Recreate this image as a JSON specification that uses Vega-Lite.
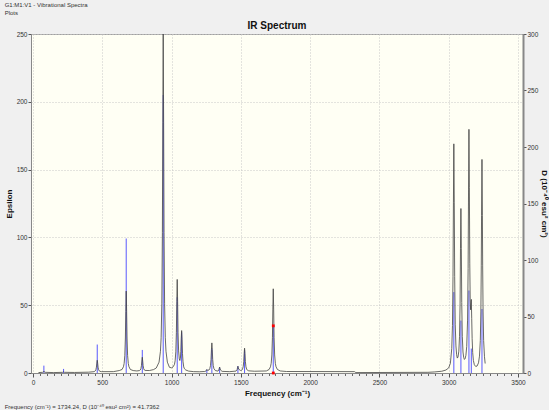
{
  "$schema": "https://vega.github.io/schema/vega-lite/v6.json",
  "background": "#f0f0f0",
  "padding": {"left": 4, "top": 1, "right": 0, "bottom": 0},
  "title": {"text": "G1:M1:V1 - Vibrational Spectra", "subtitle": "Plots", "anchor": "start", "fontSize": 6, "subtitleFontSize": 6, "fontWeight": "normal", "color": "#333333", "subtitleColor": "#333333", "font": "Liberation Sans", "subtitleFont": "Liberation Sans", "offset": 5, "subtitlePadding": 2},
  "datasets": {
    "curve": [
      {"f":40,"e":0.3},{"f":70,"e":0.5},{"f":76,"e":0.8},{"f":79,"e":1.3},{"f":82,"e":0.8},{"f":88,"e":0.5},{"f":150,"e":0.3},
      {"f":215,"e":0.5},{"f":221,"e":0.9},{"f":227,"e":0.5},{"f":300,"e":0.4},{"f":400,"e":0.6},
      {"f":434,"e":0.9},{"f":444,"e":1.1},{"f":449,"e":1.5},{"f":454,"e":2.4},{"f":458,"e":4.3},{"f":461,"e":7.3},{"f":464,"e":9.4},{"f":467,"e":7.3},{"f":470,"e":4.3},{"f":474,"e":2.4},{"f":479,"e":1.5},{"f":484,"e":1.2},{"f":494,"e":1.0},
      {"f":580,"e":1.0},{"f":623,"e":1.8},{"f":643,"e":2.6},{"f":653,"e":4.6},{"f":658,"e":7},{"f":663,"e":13},{"f":667,"e":25.8},{"f":670,"e":45.4},{"f":673,"e":60.4},{"f":676,"e":45.4},{"f":679,"e":25.8},{"f":683,"e":13},{"f":688,"e":7},{"f":693,"e":4.6},{"f":703,"e":2.6},{"f":723,"e":1.8},
      {"f":750,"e":1.5},{"f":769,"e":1.8},{"f":774,"e":2.2},{"f":779,"e":3.2},{"f":783,"e":5.5},{"f":786,"e":8.8},{"f":789,"e":11.6},{"f":792,"e":8.8},{"f":795,"e":5.5},{"f":799,"e":3.2},{"f":804,"e":2.2},{"f":809,"e":1.9},
      {"f":840,"e":1.8},{"f":870,"e":2.5},{"f":890,"e":3.7},{"f":910,"e":8},{"f":920,"e":16},{"f":925,"e":26},{"f":930,"e":51},{"f":934,"e":103.5},{"f":937,"e":185},{"f":940,"e":250},{"f":943,"e":185},{"f":946,"e":103.5},{"f":950,"e":51},{"f":955,"e":26},{"f":960,"e":16},{"f":970,"e":8},{"f":985,"e":4.2},
      {"f":1000,"e":3.8},{"f":1011,"e":4.5},{"f":1021,"e":6.3},{"f":1026,"e":9},{"f":1031,"e":15.6},{"f":1035,"e":30},{"f":1038,"e":52.5},{"f":1041,"e":69},{"f":1044,"e":52.5},{"f":1047,"e":30},{"f":1051,"e":16.3},{"f":1056,"e":10.4},{"f":1060,"e":9.2},{"f":1064,"e":10.9},{"f":1067,"e":16},{"f":1070,"e":25.6},{"f":1073,"e":31.3},{"f":1076,"e":25},{"f":1079,"e":14.5},{"f":1083,"e":8.2},{"f":1088,"e":4.5},{"f":1093,"e":3.2},{"f":1103,"e":2.2},{"f":1123,"e":1.4},{"f":1160,"e":1.0},{"f":1200,"e":0.9},
      {"f":1240,"e":1.1},{"f":1250,"e":1.6},{"f":1255,"e":2.6},{"f":1260,"e":1.9},{"f":1270,"e":2.2},{"f":1276,"e":3.2},{"f":1281,"e":5.4},{"f":1285,"e":10},{"f":1288,"e":17.2},{"f":1291,"e":22.2},{"f":1294,"e":17.2},{"f":1297,"e":10},{"f":1301,"e":5.4},{"f":1306,"e":3.2},{"f":1316,"e":1.8},
      {"f":1335,"e":1.4},{"f":1341,"e":2.2},{"f":1344,"e":3.4},{"f":1347,"e":4.4},{"f":1350,"e":3.4},{"f":1353,"e":2.2},{"f":1365,"e":1.2},{"f":1420,"e":1.0},
      {"f":1465,"e":1.4},{"f":1473,"e":2.5},{"f":1476,"e":3.8},{"f":1479,"e":5},{"f":1482,"e":3.8},{"f":1485,"e":2.8},{"f":1497,"e":1.9},{"f":1507,"e":2.1},{"f":1512,"e":2.8},{"f":1517,"e":4.6},{"f":1521,"e":8.4},{"f":1524,"e":14.4},{"f":1527,"e":18.3},{"f":1530,"e":14.4},{"f":1533,"e":8.4},{"f":1537,"e":4.6},{"f":1542,"e":2.8},{"f":1547,"e":2.1},{"f":1557,"e":1.6},{"f":1600,"e":1.3},
      {"f":1684,"e":1.5},{"f":1704,"e":2.6},{"f":1714,"e":4.6},{"f":1719,"e":7.1},{"f":1724,"e":13.3},{"f":1728,"e":26.3},{"f":1731,"e":46.5},{"f":1734,"e":62.1},{"f":1737,"e":46.5},{"f":1740,"e":26.3},{"f":1744,"e":13.3},{"f":1749,"e":7.1},{"f":1754,"e":4.6},{"f":1764,"e":2.6},{"f":1784,"e":1.5},{"f":1830,"e":1.1},
      {"f":2320,"e":1.0},{"f":2330,"e":0.3},{"f":2850,"e":0.5},{"f":2900,"e":0.8},{"f":2950,"e":1.3},{"f":2980,"e":2.2},{"f":3000,"e":3.8},{"f":3012,"e":7.2},{"f":3022,"e":18},{"f":3027,"e":35},{"f":3031,"e":71},{"f":3034,"e":126},{"f":3037,"e":169},{"f":3040,"e":126},{"f":3043,"e":71},{"f":3047,"e":36},{"f":3052,"e":20},{"f":3057,"e":13.5},{"f":3062,"e":11},{"f":3067,"e":11.8},{"f":3073,"e":16.1},{"f":3078,"e":27},{"f":3082,"e":51},{"f":3085,"e":92},{"f":3088,"e":121.3},{"f":3091,"e":92},{"f":3094,"e":52},{"f":3098,"e":27},{"f":3103,"e":15.5},{"f":3108,"e":11.5},{"f":3113,"e":10},{"f":3118,"e":10.5},{"f":3124,"e":13},{"f":3130,"e":19.5},{"f":3136,"e":39},{"f":3140,"e":77},{"f":3143,"e":135},{"f":3146,"e":179.7},{"f":3149,"e":137},{"f":3152,"e":81},{"f":3155,"e":54},{"f":3158,"e":46.6},{"f":3160,"e":49.7},{"f":3163,"e":54.3},{"f":3166,"e":40},{"f":3169,"e":25.3},{"f":3173,"e":15},{"f":3178,"e":9.2},{"f":3185,"e":6.1},{"f":3195,"e":4.8},{"f":3205,"e":5.2},{"f":3215,"e":7.5},{"f":3222,"e":12.4},{"f":3228,"e":24},{"f":3232,"e":45},{"f":3235,"e":79.5},{"f":3237,"e":116},{"f":3240,"e":157.5},{"f":3243,"e":116},{"f":3245,"e":79},{"f":3248,"e":45},{"f":3252,"e":24},{"f":3258,"e":12},{"f":3263,"e":7}
    ],
    "sticks": [
      {"f":79,"D":6.5},{"f":221,"D":3.6},{"f":464,"D":25.2},{"f":673,"D":119},{"f":789,"D":20.4},{"f":940,"D":246},{"f":1041,"D":67},{"f":1073,"D":36},{"f":1255,"D":3},{"f":1291,"D":21.6},{"f":1347,"D":4.8},{"f":1479,"D":6},{"f":1527,"D":20.4},{"f":1734,"D":41.7362},{"f":3037,"D":71.6},{"f":3088,"D":46.4},{"f":3146,"D":73},{"f":3163,"D":21.6},{"f":3240,"D":56.6}
    ],
    "marker": [
      {"f":1734.24,"D":41.7362},{"f":1734.24,"D":0}
    ]
  },
  "vconcat": [
    {
      "title": {"text": "Frequency (cm⁻¹) = 1734.24, D (10⁻⁴⁰ esu² cm²) = 41.7362", "orient": "bottom", "anchor": "start", "fontSize": 6, "fontWeight": "normal", "color": "#333333", "font": "Liberation Sans", "offset": 6},
      "vconcat": [
        {
          "title": {"text": "IR Spectrum", "fontSize": 10, "fontWeight": "bold", "color": "#111111", "font": "Liberation Sans", "offset": 0},
          "width": 492,
          "height": 339,
          "resolve": {"scale": {"y": "independent"}, "axis": {"x": "independent"}},
          "layer": [
            {
              "data": {"name": "sticks"},
              "mark": {"type": "rule", "color": "#3c3cff", "strokeWidth": 1, "opacity": 0.85},
              "encoding": {
                "x": {"field": "f", "type": "quantitative", "scale": {"domain": [-14, 3536], "nice": false, "zero": false},
                      "axis": {"orient": "bottom", "values": [0,50,100,150,200,250,300,350,400,450,500,550,600,650,700,750,800,850,900,950,1000,1050,1100,1150,1200,1250,1300,1350,1400,1450,1500,1550,1600,1650,1700,1750,1800,1850,1900,1950,2000,2050,2100,2150,2200,2250,2300,2350,2400,2450,2500,2550,2600,2650,2700,2750,2800,2850,2900,2950,3000,3050,3100,3150,3200,3250,3300,3350,3400,3450,3500], "labels": false, "domain": false, "grid": false, "tickSize": 2.5, "tickColor": "#666666", "title": null}},
                "y": {"field": "D", "type": "quantitative", "scale": {"domain": [0, 300], "nice": false},
                      "axis": {"orient": "right", "values": [0,50,100,150,200,250,300], "grid": false, "tickSize": 3, "labelPadding": 1, "title": "D (10⁻⁴⁰ esu² cm²)", "titleAngle": 90, "titlePadding": 2, "domainWidth": 2}},
                "y2": {"datum": 0}
              }
            },
            {
              "data": {"name": "curve"},
              "mark": {"type": "line", "color": "#444444", "strokeWidth": 1, "opacity": 0.8, "interpolate": "linear"},
              "encoding": {
                "x": {"field": "f", "type": "quantitative", "scale": {"domain": [-14, 3536], "nice": false, "zero": false},
                      "axis": {"orient": "bottom", "values": [0,500,1000,1500,2000,2500,3000,3500], "format": "d", "grid": true, "tickSize": 4, "labelPadding": 2, "title": "Frequency (cm⁻¹)", "titlePadding": 4}},
                "y": {"field": "e", "type": "quantitative", "scale": {"domain": [0, 250], "nice": false},
                      "axis": {"orient": "left", "values": [0,50,100,150,200,250], "grid": true, "tickSize": 3, "labelPadding": 1, "title": "Epsilon", "titlePadding": 3}}
              }
            },
            {
              "data": {"name": "marker"},
              "mark": {"type": "square", "color": "#ff0000", "opacity": 1, "size": 8},
              "encoding": {
                "x": {"field": "f", "type": "quantitative", "scale": {"domain": [-14, 3536], "nice": false, "zero": false}, "axis": null},
                "y": {"field": "D", "type": "quantitative", "scale": {"domain": [0, 300], "nice": false}, "axis": null}
              }
            }
          ]
        }
      ]
    }
  ],
  "config": {
    "font": "Liberation Sans",
    "view": {"fill": "#fffff4", "stroke": "#a0a0a0", "strokeWidth": 1},
    "axis": {"labelFontSize": 6.5, "labelColor": "#333333", "labelFont": "Liberation Sans", "tickColor": "#555555", "domainColor": "#888888", "titleFontSize": 8, "titleFontWeight": "bold", "titleColor": "#111111", "titleFont": "Liberation Sans", "gridColor": "#c8c8c8", "gridDash": [1, 2]}
  }
}
